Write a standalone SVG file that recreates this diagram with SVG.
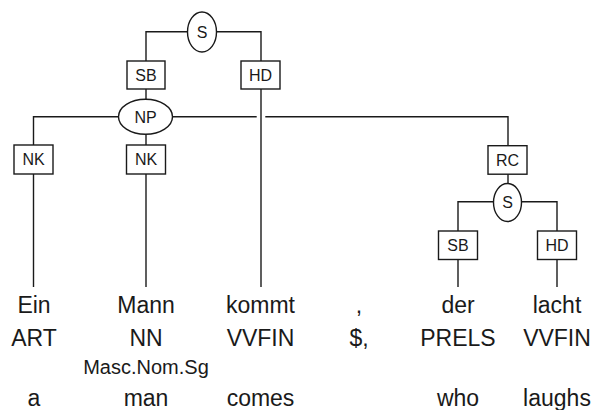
<svg xmlns="http://www.w3.org/2000/svg" width="594" height="410" viewBox="0 0 594 410">
<style>
.ln{fill:none;stroke:#1a1a1a;stroke-width:1.4}
.nd{fill:#fff;stroke:#1a1a1a;stroke-width:1.4}
.lb{font-family:"Liberation Sans",Arial,sans-serif;font-size:16px;fill:#1a1a1a;text-anchor:middle}
.wd{font-family:"Liberation Sans",Arial,sans-serif;font-size:23px;fill:#1a1a1a;text-anchor:middle}
.ms{font-family:"Liberation Sans",Arial,sans-serif;font-size:20px;fill:#1a1a1a;text-anchor:middle}
</style>
<g id="connectors" class="ln">
<path d="M187.5 31.7H146V61"/>
<path d="M216.5 31.7H261V61"/>
<path d="M146 89V99"/>
<path d="M261 89V287"/>
<path d="M118.5 116.7H33.5V145"/>
<path d="M172.5 116.7H256.7"/>
<path d="M265.3 116.7H508V145.7"/>
<path d="M146 134V145"/>
<path d="M33.5 174V287"/>
<path d="M146 174V287"/>
<path d="M508 174V183.5"/>
<path d="M493.5 201.7H458V231"/>
<path d="M522 201.7H557V231"/>
<path d="M458 259V287"/>
<path d="M557 259V287"/>
</g>
<g id="S1"><ellipse class="nd" cx="202" cy="32" rx="14.5" ry="20"/><text class="lb" x="202" y="37.5">S</text></g>
<g id="SB1"><rect class="nd" x="127" y="61" width="38" height="28"/><text class="lb" x="146" y="80.5">SB</text></g>
<g id="HD1"><rect class="nd" x="241" y="61" width="39" height="28"/><text class="lb" x="260.5" y="80.5">HD</text></g>
<g id="NP"><ellipse class="nd" cx="145.5" cy="116.7" rx="27" ry="17.5"/><text class="lb" x="145.5" y="122.5">NP</text></g>
<g id="NK1"><rect class="nd" x="14" y="145" width="39" height="29"/><text class="lb" x="33.5" y="165">NK</text></g>
<g id="NK2"><rect class="nd" x="126.5" y="145" width="39" height="29"/><text class="lb" x="146" y="165">NK</text></g>
<g id="RC"><rect class="nd" x="488" y="145.7" width="39" height="28.5"/><text class="lb" x="507.5" y="165.5">RC</text></g>
<g id="S2"><ellipse class="nd" cx="507.5" cy="202.5" rx="14" ry="19"/><text class="lb" x="507.5" y="208">S</text></g>
<g id="SB2"><rect class="nd" x="438.5" y="231" width="39" height="28.5"/><text class="lb" x="458" y="250.5">SB</text></g>
<g id="HD2"><rect class="nd" x="537.5" y="231" width="39" height="28.5"/><text class="lb" x="557" y="250.5">HD</text></g>
<g id="words">
<text class="wd" x="34" y="313">Ein</text>
<text class="wd" x="146" y="313">Mann</text>
<text class="wd" x="260.5" y="313">kommt</text>
<text class="wd" x="359" y="313">,</text>
<text class="wd" x="458" y="313">der</text>
<text class="wd" x="557" y="313">lacht</text>
<text class="wd" x="34" y="346">ART</text>
<text class="wd" x="146" y="346">NN</text>
<text class="wd" x="260.5" y="346">VVFIN</text>
<text class="wd" x="359" y="346">$,</text>
<text class="wd" x="458" y="346">PRELS</text>
<text class="wd" x="557" y="346">VVFIN</text>
<text class="ms" x="146" y="374">Masc.Nom.Sg</text>
<text class="wd" x="34" y="406">a</text>
<text class="wd" x="146" y="406">man</text>
<text class="wd" x="260.5" y="406">comes</text>
<text class="wd" x="458" y="406">who</text>
<text class="wd" x="557" y="406">laughs</text>
</g>
</svg>
